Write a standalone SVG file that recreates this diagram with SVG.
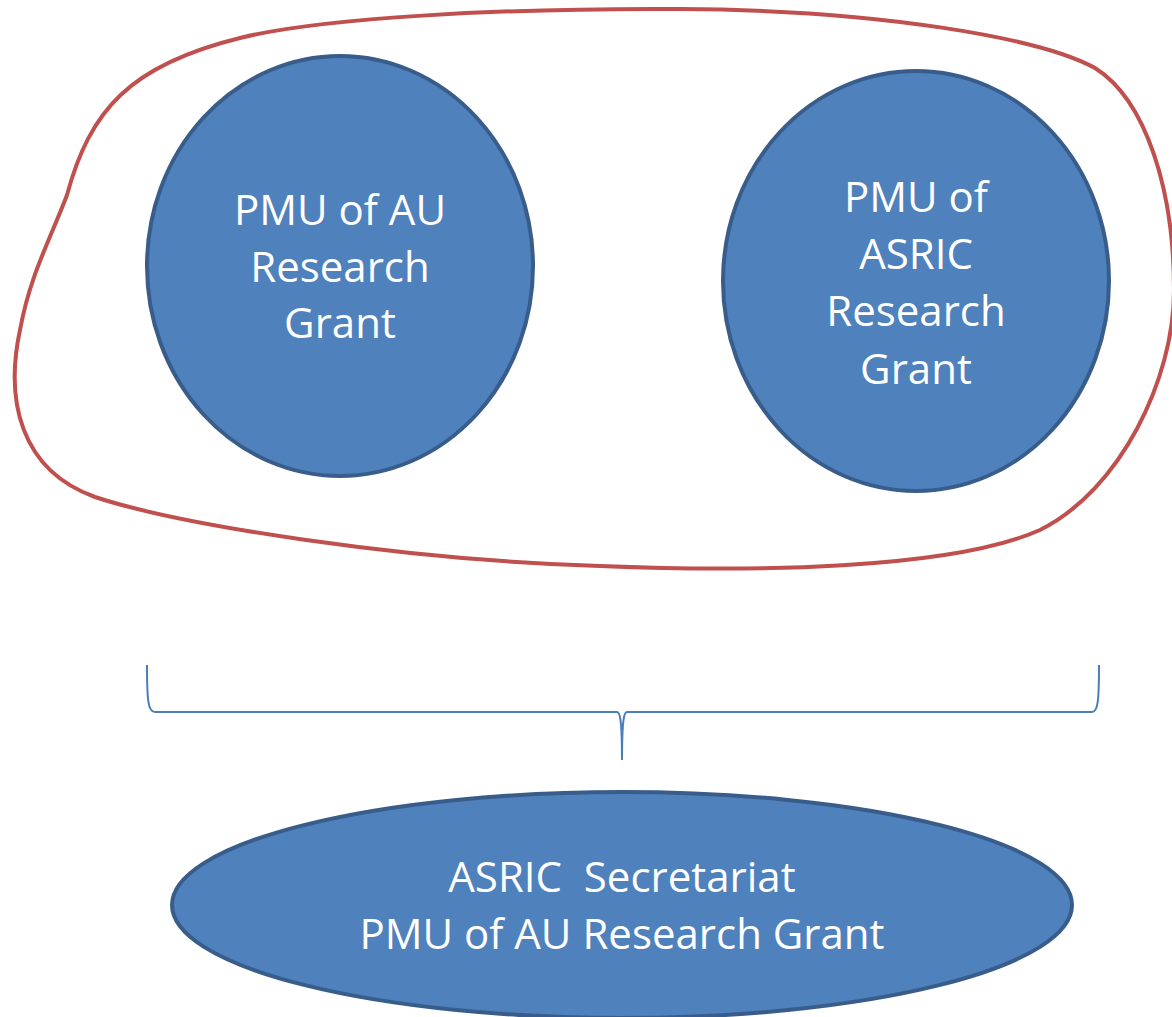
<svg xmlns="http://www.w3.org/2000/svg" width="1172" height="1017" viewBox="0 0 1172 1017">
<style>
.n{fill:#4F81BD;stroke:#385D8A;stroke-width:4}
.t{fill:#fff;font-family:"Open Sans","Liberation Sans",sans-serif;font-size:42px;text-anchor:middle}
.c{fill:none;stroke:#4A7EBB;stroke-width:2}
</style>
<rect width="1172" height="1017" fill="#fff"/>
<g id="group-outline">
<path d="M67,195 C90,110 130,65 240,38 C320,18 500,8 680,9 C880,10 1040,38 1095,68 C1146,100 1174,190 1174,290 C1174,380 1120,490 1040,530 C950,570 750,572 600,566 C400,560 180,525 95,497 C20,470 5,400 20,330 C30,275 50,240 67,195 Z" fill="none" stroke="#C0504D" stroke-width="4"/>
</g>
<g id="node-au">
<ellipse class="n" cx="340" cy="266" rx="193" ry="210"/>
<text class="t" x="340" y="225">PMU of AU</text>
<text class="t" x="340" y="282">Research</text>
<text class="t" x="340" y="338">Grant</text>
</g>
<g id="node-asric">
<ellipse class="n" cx="916" cy="281" rx="193" ry="210"/>
<text class="t" x="916" y="212">PMU of</text>
<text class="t" x="916" y="269">ASRIC</text>
<text class="t" x="916" y="326">Research</text>
<text class="t" x="916" y="384">Grant</text>
</g>
<g id="connectors">
<path class="c" d="M147,665 C147,700 148,712 155,712 L617,712 C620,712 622,720 622,760 C622,720 624,712 627,712 L1092,712 C1098,712 1099,700 1099,665"/>
</g>
<g id="node-secretariat">
<ellipse class="n" cx="622" cy="905" rx="450" ry="113"/>
<text class="t" x="622" y="892" xml:space="preserve">ASRIC  Secretariat</text>
<text class="t" x="622" y="949">PMU of AU Research Grant</text>
</g>
</svg>
